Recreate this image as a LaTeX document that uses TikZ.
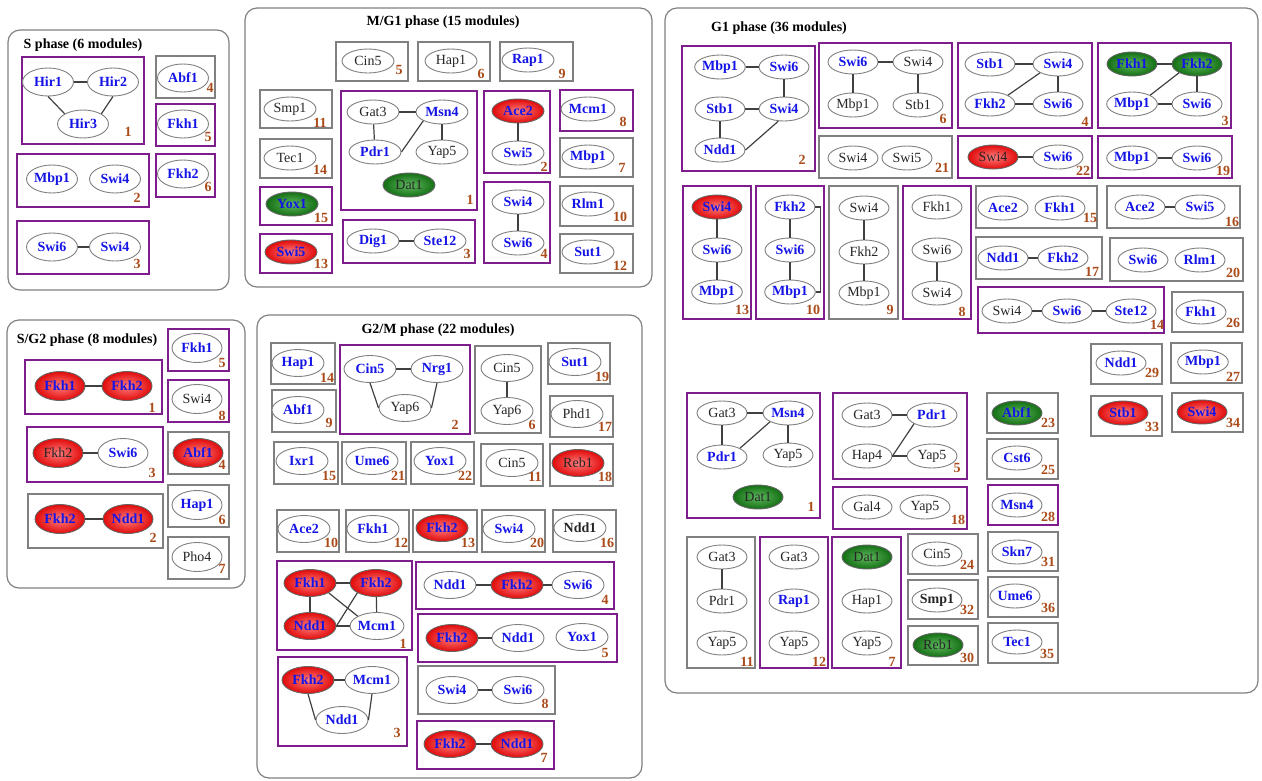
\documentclass[tikz,border=0pt]{standalone}
\usepackage{fontspec}
\setmainfont{Liberation Serif}
\usetikzlibrary{shapes.geometric}
\definecolor{tfblue}{RGB}{20,20,230}
\definecolor{modpurple}{RGB}{125,30,140}
\definecolor{numbrown}{RGB}{170,75,25}
\definecolor{boxgray}{RGB}{128,128,128}
\definecolor{hotin}{RGB}{255,125,125}
\definecolor{hotout}{RGB}{225,10,10}
\definecolor{coolin}{RGB}{95,185,95}
\definecolor{coolout}{RGB}{20,110,20}
\begin{document}
\begin{tikzpicture}[x=1pt,y=-1pt,
  phase/.style={draw=boxgray,line width=1.2pt,rounded corners=12pt},
  title/.style={font=\bfseries\fontsize{14}{14}\selectfont},
  pmod/.style={draw=modpurple,line width=2pt},
  gmod/.style={draw=boxgray,line width=1.5pt},
  gene/.style={ellipse,draw=boxgray,line width=0.9pt,fill=white,minimum width=50pt,minimum height=25pt,inner sep=0pt,text=black!85,font=\fontsize{14}{14}\selectfont},
  tf/.style={text=tfblue,font=\bfseries\fontsize{14}{14}\selectfont},
  kb/.style={font=\bfseries\fontsize{14}{14}\selectfont},
  redgene/.style={inner color=hotin,outer color=hotout,draw=black!60},
  greengene/.style={inner color=coolin,outer color=coolout,draw=black!60},
  num/.style={text=numbrown,font=\bfseries\fontsize{14}{14}\selectfont,inner sep=0pt},
  link/.style={draw=black!75,line width=1.2pt}]
\useasboundingbox (0,0) rectangle (1262,780);
% S phase
\begin{scope}[gene/.append style={minimum width=51pt,minimum height=28pt}]
\draw[phase] (8,30) rectangle (229,290);
\node[title] (stitle) at (83,45) {S phase (6 modules)};
\draw[pmod] (22,57) rectangle (144,144);
\node[gene,tf] (s1a) at (48,82) {Hir1};
\node[gene,tf] (s1b) at (113,82) {Hir2};
\node[gene,tf] (s1c) at (83,124) {Hir3};
\node[num] (s1n) at (128,132) {1};
\draw[link] (s1a) -- (s1b);
\draw[link] (s1a.south) -- (s1c.north west);
\draw[link] (s1b.south) -- (s1c.north east);
\draw[pmod] (17,154) rectangle (149,207);
\node[gene,tf] (s2a) at (52,179) {Mbp1};
\node[gene,tf] (s2b) at (115,179) {Swi4};
\node[num] (s2n) at (137,198) {2};
\draw[pmod] (17,221) rectangle (149,274);
\node[gene,tf] (s3a) at (52,247) {Swi6};
\node[gene,tf] (s3b) at (115,247) {Swi4};
\node[num] (s3n) at (137,264) {3};
\draw[link] (s3a) -- (s3b);
\draw[gmod] (156,56) rectangle (215,98);
\node[gene,tf] (s4a) at (183,78) {Abf1};
\node[num] (s4n) at (210,88) {4};
\draw[pmod] (156,104) rectangle (215,146);
\node[gene,tf] (s5a) at (183,124) {Fkh1};
\node[num] (s5n) at (208,137) {5};
\draw[pmod] (156,154) rectangle (215,197);
\node[gene,tf] (s6a) at (183,174) {Fkh2};
\node[num] (s6n) at (208,187) {6};
\end{scope}
% M/G1 phase
\begin{scope}[gene/.append style={minimum width=52pt,minimum height=24pt}]
\draw[phase] (245,8) rectangle (652,287);
\node[title] (mgtitle) at (443,22) {M/G1 phase (15 modules)};
\draw[gmod] (336,42) rectangle (408,81);
\node[gene] (mg5a) at (368,61) {Cin5};
\node[num] (mg5n) at (399,70) {5};
\draw[gmod] (418,42) rectangle (490,81);
\node[gene] (mg6a) at (451,61) {Hap1};
\node[num] (mg6n) at (481,74) {6};
\draw[gmod] (500,42) rectangle (573,81);
\node[gene,tf] (mg9a) at (528,60) {Rap1};
\node[num] (mg9n) at (562,74) {9};
\draw[gmod] (260,90) rectangle (332,128);
\node[gene] (mg11a) at (290,109) {Smp1};
\node[num] (mg11n) at (320,123) {11};
\draw[gmod] (260,139) rectangle (332,178);
\node[gene] (mg14a) at (290,158) {Tec1};
\node[num] (mg14n) at (320,170) {14};
\draw[pmod] (260,187) rectangle (332,225);
\node[gene,tf,greengene] (mg15a) at (292,204) {Yox1};
\node[num] (mg15n) at (321,218) {15};
\draw[pmod] (260,234) rectangle (332,273);
\node[gene,tf,redgene] (mg13a) at (291,252) {Swi5};
\node[num] (mg13n) at (321,264) {13};
\draw[pmod] (341,91) rectangle (477,210);
\node[gene] (mg1a) at (373,112) {Gat3};
\node[gene,tf] (mg1b) at (442,112) {Msn4};
\node[gene,tf] (mg1c) at (375,152) {Pdr1};
\node[gene] (mg1d) at (442,152) {Yap5};
\node[gene,greengene] (mg1e) at (409,185) {Dat1};
\node[num] (mg1n) at (470,200) {1};
\draw[link] (mg1a) -- (mg1b);
\draw[link] (mg1a) -- (mg1c);
\draw[link] (mg1b) -- (mg1d);
\draw[link] (mg1b.south west) -- (mg1c.east);
\draw[pmod] (343,220) rectangle (475,263);
\node[gene,tf] (mg3a) at (373,241) {Dig1};
\node[gene,tf] (mg3b) at (440,241) {Ste12};
\node[num] (mg3n) at (467,254) {3};
\draw[link] (mg3a) -- (mg3b);
\draw[pmod] (484,91) rectangle (550,173);
\node[gene,tf,redgene] (mg2a) at (518,111) {Ace2};
\node[gene,tf] (mg2b) at (518,153) {Swi5};
\node[num] (mg2n) at (544,167) {2};
\draw[link] (mg2a) -- (mg2b);
\draw[pmod] (484,182) rectangle (550,263);
\node[gene,tf] (mg4a) at (518,202) {Swi4};
\node[gene,tf] (mg4b) at (518,243) {Swi6};
\node[num] (mg4n) at (544,254) {4};
\draw[link] (mg4a) -- (mg4b);
\draw[pmod] (560,90) rectangle (633,131);
\node[gene,tf] (mg8a) at (588,109) {Mcm1};
\node[num] (mg8n) at (623,122) {8};
\draw[gmod] (560,138) rectangle (633,177);
\node[gene,tf] (mg7a) at (588,157) {Mbp1};
\node[num] (mg7n) at (622,168) {7};
\draw[gmod] (560,186) rectangle (633,226);
\node[gene,tf] (mg10a) at (588,204) {Rlm1};
\node[num] (mg10n) at (620,217) {10};
\draw[gmod] (560,234) rectangle (633,273);
\node[gene,tf] (mg12a) at (588,252) {Sut1};
\node[num] (mg12n) at (620,266) {12};
\end{scope}
% S/G2 phase
\begin{scope}[gene/.append style={minimum width=50pt,minimum height=29pt}]
\draw[phase] (7,320) rectangle (245,588);
\node[title] (sgtitle) at (87,340) {S/G2 phase (8 modules)};
\draw[pmod] (25,360) rectangle (162,414);
\node[gene,tf,redgene] (sg1a) at (60,386) {Fkh1};
\node[gene,tf,redgene] (sg1b) at (127,386) {Fkh2};
\node[num] (sg1n) at (152,408) {1};
\draw[link] (sg1a) -- (sg1b);
\draw[pmod] (27,427) rectangle (163,482);
\node[gene,redgene] (sg3a) at (58,453) {Fkh2};
\node[gene,tf] (sg3b) at (123,453) {Swi6};
\node[num] (sg3n) at (152,473) {3};
\draw[link] (sg3a) -- (sg3b);
\draw[gmod] (28,494) rectangle (163,548);
\node[gene,tf,redgene] (sg2a) at (60,519) {Fkh2};
\node[gene,tf,redgene] (sg2b) at (128,519) {Ndd1};
\node[num] (sg2n) at (153,538) {2};
\draw[link] (sg2a) -- (sg2b);
\draw[pmod] (168,329) rectangle (229,371);
\node[gene,tf] (sg5a) at (197,348) {Fkh1};
\node[num] (sg5n) at (222,363) {5};
\draw[pmod] (168,380) rectangle (229,422);
\node[gene] (sg8a) at (197,399) {Swi4};
\node[num] (sg8n) at (222,416) {8};
\draw[gmod] (168,432) rectangle (229,474);
\node[gene,tf,redgene] (sg4a) at (198,453) {Abf1};
\node[num] (sg4n) at (222,465) {4};
\draw[gmod] (168,485) rectangle (229,527);
\node[gene,tf] (sg6a) at (197,505) {Hap1};
\node[num] (sg6n) at (222,520) {6};
\draw[gmod] (168,537) rectangle (229,579);
\node[gene] (sg7a) at (197,557) {Pho4};
\node[num] (sg7n) at (222,569) {7};
\end{scope}
% G2/M phase
\begin{scope}[gene/.append style={minimum width=52pt,minimum height=27pt}]
\draw[phase] (257,315) rectangle (642,778);
\node[title] (gmtitle) at (438,330) {G2/M phase (22 modules)};
\draw[gmod] (271,343) rectangle (335,384);
\node[gene,tf] (gm14a) at (298,363) {Hap1};
\node[num] (gm14n) at (327,378) {14};
\draw[gmod] (272,390) rectangle (336,432);
\node[gene,tf] (gm9a) at (298,410) {Abf1};
\node[num] (gm9n) at (329,423) {9};
\draw[pmod] (340,345) rectangle (470,434);
\node[gene,tf] (gm2a) at (370,369) {Cin5};
\node[gene,tf] (gm2b) at (437,369) {Nrg1};
\node[gene] (gm2c) at (405,408) {Yap6};
\node[num] (gm2n) at (455,425) {2};
\draw[link] (gm2a) -- (gm2b);
\draw[link] (gm2a.south) -- (gm2c.west);
\draw[link] (gm2b.south) -- (gm2c.east);
\draw[gmod] (475,346) rectangle (541,433);
\node[gene] (gm6a) at (507,368) {Cin5};
\node[gene] (gm6b) at (507,411) {Yap6};
\node[num] (gm6n) at (532,425) {6};
\draw[link] (gm6a) -- (gm6b);
\draw[gmod] (548,343) rectangle (610,384);
\node[gene,tf] (gm19a) at (575,362) {Sut1};
\node[num] (gm19n) at (602,377) {19};
\draw[gmod] (550,396) rectangle (613,437);
\node[gene] (gm17a) at (577,414) {Phd1};
\node[num] (gm17n) at (605,427) {17};
\draw[gmod] (274,442) rectangle (338,484);
\node[gene,tf] (gm15a) at (302,461) {Ixr1};
\node[num] (gm15n) at (329,476) {15};
\draw[gmod] (342,442) rectangle (406,484);
\node[gene,tf] (gm21a) at (372,461) {Ume6};
\node[num] (gm21n) at (398,476) {21};
\draw[gmod] (411,442) rectangle (474,484);
\node[gene,tf] (gm22a) at (440,461) {Yox1};
\node[num] (gm22n) at (465,476) {22};
\draw[gmod] (481,444) rectangle (543,486);
\node[gene] (gm11a) at (512,463) {Cin5};
\node[num] (gm11n) at (535,477) {11};
\draw[gmod] (550,444) rectangle (613,486);
\node[gene,redgene] (gm18a) at (578,463) {Reb1};
\node[num] (gm18n) at (605,477) {18};
\draw[gmod] (277,510) rectangle (339,552);
\node[gene,tf] (gm10a) at (304,529) {Ace2};
\node[num] (gm10n) at (331,543) {10};
\draw[gmod] (346,510) rectangle (409,552);
\node[gene,tf] (gm12a) at (373,529) {Fkh1};
\node[num] (gm12n) at (401,543) {12};
\draw[gmod] (413,510) rectangle (477,552);
\node[gene,tf,redgene] (gm13a) at (442,528) {Fkh2};
\node[num] (gm13n) at (468,543) {13};
\draw[gmod] (482,510) rectangle (545,552);
\node[gene,tf] (gm20a) at (509,529) {Swi4};
\node[num] (gm20n) at (537,543) {20};
\draw[gmod] (553,510) rectangle (616,552);
\node[gene,kb] (gm16a) at (580,528) {Ndd1};
\node[num] (gm16n) at (607,543) {16};
\draw[pmod] (277,561) rectangle (412,650);
\node[gene,tf,redgene] (gm1a) at (310,583) {Fkh1};
\node[gene,tf,redgene] (gm1b) at (376,583) {Fkh2};
\node[gene,tf,redgene] (gm1c) at (310,626) {Ndd1};
\node[gene,tf] (gm1d) at (377,626) {Mcm1};
\node[num] (gm1n) at (403,644) {1};
\draw[link] (gm1a) -- (gm1b);
\draw[link] (gm1a) -- (gm1c);
\draw[link] (gm1b) -- (gm1d);
\draw[link] (gm1c) -- (gm1d);
\draw[link] (gm1a.south east) -- (gm1d.north west);
\draw[link] (gm1c.east) -- (gm1b.south west);
\draw[pmod] (278,657) rectangle (407,746);
\node[gene,tf,redgene] (gm3a) at (308,680) {Fkh2};
\node[gene,tf] (gm3b) at (372,680) {Mcm1};
\node[gene,tf] (gm3c) at (342,720) {Ndd1};
\node[num] (gm3n) at (397,733) {3};
\draw[link] (gm3a) -- (gm3b);
\draw[link] (gm3a.south) -- (gm3c.west);
\draw[link] (gm3b.south) -- (gm3c.east);
\draw[pmod] (416,562) rectangle (614,609);
\node[gene,tf] (gm4a) at (450,585) {Ndd1};
\node[gene,tf,redgene] (gm4b) at (517,585) {Fkh2};
\node[gene,tf] (gm4c) at (578,585) {Swi6};
\node[num] (gm4n) at (605,600) {4};
\draw[link] (gm4a) -- (gm4b);
\draw[link] (gm4b) -- (gm4c);
\draw[pmod] (418,614) rectangle (617,662);
\node[gene,tf,redgene] (gm5a) at (452,638) {Fkh2};
\node[gene,tf] (gm5b) at (518,638) {Ndd1};
\node[gene,tf] (gm5c) at (582,637) {Yox1};
\node[num] (gm5n) at (605,653) {5};
\draw[link] (gm5a) -- (gm5b);
\draw[gmod] (418,666) rectangle (555,714);
\node[gene,tf] (gm8a) at (452,690) {Swi4};
\node[gene,tf] (gm8b) at (518,690) {Swi6};
\node[num] (gm8n) at (545,704) {8};
\draw[link] (gm8a) -- (gm8b);
\draw[pmod] (417,721) rectangle (554,769);
\node[gene,tf,redgene] (gm7a) at (450,744) {Fkh2};
\node[gene,tf,redgene] (gm7b) at (517,744) {Ndd1};
\node[num] (gm7n) at (544,758) {7};
\draw[link] (gm7a) -- (gm7b);
\end{scope}
% G1 phase
\begin{scope}[gene/.append style={minimum width=50pt,minimum height=24pt}]
\draw[phase] (665,8) rectangle (1258,693);
\node[title] (gtitle) at (779,28) {G1 phase (36 modules)};
\draw[pmod] (682,46) rectangle (815,171);
\node[gene,tf] (g2a) at (720,67) {Mbp1};
\node[gene,tf] (g2b) at (784,67) {Swi6};
\node[gene,tf] (g2c) at (720,109) {Stb1};
\node[gene,tf] (g2d) at (784,109) {Swi4};
\node[gene,tf] (g2e) at (720,150) {Ndd1};
\node[num] (g2n) at (802,160) {2};
\draw[link] (g2a) -- (g2b);
\draw[link] (g2b) -- (g2d);
\draw[link] (g2c) -- (g2d);
\draw[link] (g2c) -- (g2e);
\draw[link] (g2e.east) -- (g2d.-115);
\draw[pmod] (819,43) rectangle (952,128);
\node[gene,tf] (g6a) at (853,62) {Swi6};
\node[gene] (g6b) at (918,62) {Swi4};
\node[gene] (g6c) at (853,105) {Mbp1};
\node[gene] (g6d) at (918,105) {Stb1};
\node[num] (g6n) at (943,119) {6};
\draw[link] (g6a) -- (g6b);
\draw[link] (g6a) -- (g6c);
\draw[link] (g6b) -- (g6d);
\draw[gmod] (819,136) rectangle (952,178);
\node[gene] (g21a) at (853,158) {Swi4};
\node[gene] (g21b) at (907,158) {Swi5};
\node[num] (g21n) at (942,168) {21};
\draw[pmod] (958,43) rectangle (1092,128);
\node[gene,tf] (g4a) at (990,64) {Stb1};
\node[gene,tf] (g4b) at (1058,64) {Swi4};
\node[gene,tf] (g4c) at (990,104) {Fkh2};
\node[gene,tf] (g4d) at (1058,104) {Swi6};
\node[num] (g4n) at (1085,122) {4};
\draw[link] (g4a) -- (g4b);
\draw[link] (g4b) -- (g4d);
\draw[link] (g4c) -- (g4d);
\draw[link] (g4c.north east) -- (g4b.south west);
\draw[pmod] (1098,43) rectangle (1231,128);
\node[gene,tf,greengene] (g3a) at (1132,64) {Fkh1};
\node[gene,tf,greengene] (g3b) at (1197,64) {Fkh2};
\node[gene,tf] (g3c) at (1132,104) {Mbp1};
\node[gene,tf] (g3d) at (1197,104) {Swi6};
\node[num] (g3n) at (1225,121) {3};
\draw[link] (g3a) -- (g3b);
\draw[link] (g3b) -- (g3d);
\draw[link] (g3c) -- (g3d);
\draw[link] (g3c.north east) -- (g3b.south west);
\draw[pmod] (958,136) rectangle (1092,178);
\node[gene,redgene] (g22a) at (993,157) {Swi4};
\node[gene,tf] (g22b) at (1058,157) {Swi6};
\node[num] (g22n) at (1083,171) {22};
\draw[link] (g22a) -- (g22b);
\draw[pmod] (1098,136) rectangle (1232,178);
\node[gene,tf] (g19a) at (1132,158) {Mbp1};
\node[gene,tf] (g19b) at (1197,158) {Swi6};
\node[num] (g19n) at (1223,171) {19};
\draw[link] (g19a) -- (g19b);
\draw[pmod] (683,186) rectangle (751,319);
\node[gene,tf,redgene] (g13a) at (717,207) {Swi4};
\node[gene,tf] (g13b) at (717,250) {Swi6};
\node[gene,tf] (g13c) at (717,292) {Mbp1};
\node[num] (g13n) at (742,310) {13};
\draw[link] (g13a) -- (g13b);
\draw[link] (g13b) -- (g13c);
\draw[pmod] (756,186) rectangle (824,319);
\node[gene,tf] (g10a) at (790,207) {Fkh2};
\node[gene,tf] (g10b) at (790,250) {Swi6};
\node[gene,tf] (g10c) at (790,292) {Mbp1};
\node[num] (g10n) at (813,310) {10};
\draw[link] (g10a) -- (g10b);
\draw[link] (g10b) -- (g10c);
\draw[link] (g10a.east) -- ++(5,0) |- (g10c.east);
\draw[gmod] (829,186) rectangle (898,319);
\node[gene] (g9a) at (864,208) {Swi4};
\node[gene] (g9b) at (864,252) {Fkh2};
\node[gene] (g9c) at (864,293) {Mbp1};
\node[num] (g9n) at (890,310) {9};
\draw[link] (g9a) -- (g9b);
\draw[link] (g9b) -- (g9c);
\draw[pmod] (903,186) rectangle (971,319);
\node[gene] (g8a) at (937,207) {Fkh1};
\node[gene] (g8b) at (937,250) {Swi6};
\node[gene] (g8c) at (937,293) {Swi4};
\node[num] (g8n) at (962,312) {8};
\draw[link] (g8b) -- (g8c);
\draw[gmod] (976,186) rectangle (1097,228);
\node[gene,tf] (g15a) at (1003,208) {Ace2};
\node[gene,tf] (g15b) at (1060,208) {Fkh1};
\node[num] (g15n) at (1090,218) {15};
\draw[gmod] (1107,186) rectangle (1240,228);
\node[gene,tf] (g16a) at (1140,207) {Ace2};
\node[gene,tf] (g16b) at (1200,207) {Swi5};
\node[num] (g16n) at (1232,222) {16};
\draw[link] (g16a) -- (g16b);
\draw[gmod] (976,237) rectangle (1102,279);
\node[gene,tf] (g17a) at (1003,258) {Ndd1};
\node[gene,tf] (g17b) at (1063,258) {Fkh2};
\node[num] (g17n) at (1092,272) {17};
\draw[link] (g17a) -- (g17b);
\draw[gmod] (1110,238) rectangle (1243,281);
\node[gene,tf] (g20a) at (1143,260) {Swi6};
\node[gene,tf] (g20b) at (1200,260) {Rlm1};
\node[num] (g20n) at (1233,273) {20};
\draw[pmod] (978,287) rectangle (1164,333);
\node[gene] (g14a) at (1007,311) {Swi4};
\node[gene,tf] (g14b) at (1067,311) {Swi6};
\node[gene,tf] (g14c) at (1131,311) {Ste12};
\node[num] (g14n) at (1157,325) {14};
\draw[link] (g14a) -- (g14b);
\draw[link] (g14b) -- (g14c);
\draw[gmod] (1172,292) rectangle (1243,332);
\node[gene,tf] (g26a) at (1201,312) {Fkh1};
\node[num] (g26n) at (1233,323) {26};
\draw[gmod] (1091,344) rectangle (1162,384);
\node[gene,tf] (g29a) at (1121,363) {Ndd1};
\node[num] (g29n) at (1152,373) {29};
\draw[gmod] (1171,343) rectangle (1242,383);
\node[gene,tf] (g27a) at (1203,362) {Mbp1};
\node[num] (g27n) at (1233,377) {27};
\draw[gmod] (1091,396) rectangle (1162,436);
\node[gene,tf,redgene] (g33a) at (1123,413) {Stb1};
\node[num] (g33n) at (1152,427) {33};
\draw[gmod] (1172,393) rectangle (1243,432);
\node[gene,tf,redgene] (g34a) at (1202,412) {Swi4};
\node[num] (g34n) at (1233,423) {34};
\draw[gmod] (987,393) rectangle (1058,433);
\node[gene,tf,greengene] (g23a) at (1017,413) {Abf1};
\node[num] (g23n) at (1048,423) {23};
\draw[gmod] (987,439) rectangle (1058,479);
\node[gene,tf] (g25a) at (1017,458) {Cst6};
\node[num] (g25n) at (1048,470) {25};
\draw[pmod] (988,485) rectangle (1058,525);
\node[gene,tf] (g28a) at (1017,505) {Msn4};
\node[num] (g28n) at (1048,517) {28};
\draw[gmod] (988,532) rectangle (1058,571);
\node[gene,tf] (g31a) at (1017,552) {Skn7};
\node[num] (g31n) at (1048,562) {31};
\draw[gmod] (988,577) rectangle (1058,617);
\node[gene,tf] (g36a) at (1015,596) {Ume6};
\node[num] (g36n) at (1048,608) {36};
\draw[gmod] (988,623) rectangle (1058,663);
\node[gene,tf] (g35a) at (1017,642) {Tec1};
\node[num] (g35n) at (1047,654) {35};
\draw[pmod] (687,393) rectangle (820,518);
\node[gene] (g1a) at (722,413) {Gat3};
\node[gene,tf] (g1b) at (788,413) {Msn4};
\node[gene,tf] (g1c) at (722,457) {Pdr1};
\node[gene] (g1d) at (788,455) {Yap5};
\node[gene,greengene] (g1e) at (758,497) {Dat1};
\node[num] (g1n) at (811,507) {1};
\draw[link] (g1a) -- (g1b);
\draw[link] (g1a) -- (g1c);
\draw[link] (g1b) -- (g1d);
\draw[link] (g1b.south west) -- (g1c.north east);
\draw[pmod] (833,393) rectangle (967,479);
\node[gene] (g5a) at (867,415) {Gat3};
\node[gene,tf] (g5b) at (932,415) {Pdr1};
\node[gene] (g5c) at (867,456) {Hap4};
\node[gene] (g5d) at (932,456) {Yap5};
\node[num] (g5n) at (957,468) {5};
\draw[link] (g5a) -- (g5b);
\draw[link] (g5c) -- (g5d);
\draw[link] (g5c.east) -- (g5b.south west);
\draw[pmod] (833,487) rectangle (967,529);
\node[gene] (g18a) at (867,507) {Gal4};
\node[gene] (g18b) at (925,507) {Yap5};
\node[num] (g18n) at (958,520) {18};
\draw[gmod] (687,537) rectangle (755,668);
\node[gene] (g11a) at (722,557) {Gat3};
\node[gene] (g11b) at (722,601) {Pdr1};
\node[gene] (g11c) at (722,643) {Yap5};
\node[num] (g11n) at (747,662) {11};
\draw[link] (g11a) -- (g11b);
\draw[pmod] (760,537) rectangle (828,668);
\node[gene] (g12a) at (794,557) {Gat3};
\node[gene,tf] (g12b) at (794,601) {Rap1};
\node[gene] (g12c) at (794,643) {Yap5};
\node[num] (g12n) at (819,662) {12};
\draw[pmod] (832,537) rectangle (901,668);
\node[gene,greengene] (g7a) at (867,557) {Dat1};
\node[gene] (g7b) at (867,601) {Hap1};
\node[gene] (g7c) at (867,643) {Yap5};
\node[num] (g7n) at (892,662) {7};
\draw[gmod] (908,534) rectangle (978,574);
\node[gene] (g24a) at (937,554) {Cin5};
\node[num] (g24n) at (967,565) {24};
\draw[gmod] (908,580) rectangle (978,619);
\node[gene,kb] (g32a) at (937,600) {Smp1};
\node[num] (g32n) at (967,610) {32};
\draw[gmod] (908,626) rectangle (978,665);
\node[gene,greengene] (g30a) at (938,645) {Reb1};
\node[num] (g30n) at (967,658) {30};
\end{scope}
\end{tikzpicture}
\end{document}
